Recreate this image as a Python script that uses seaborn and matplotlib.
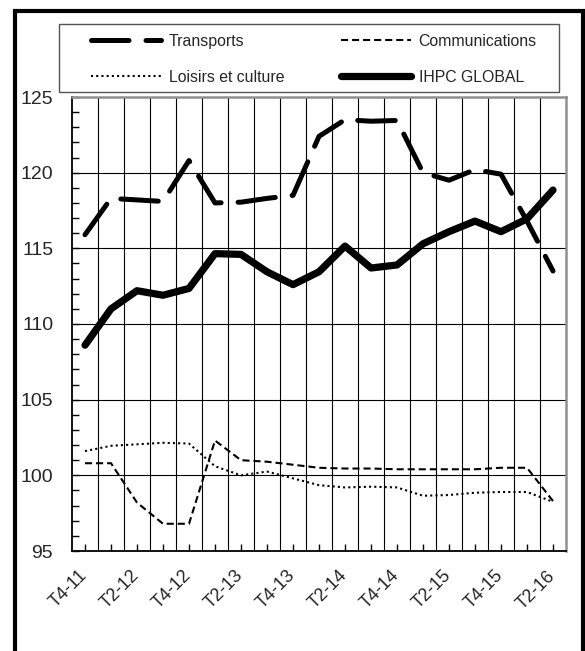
import pandas as pd
import seaborn as sns
from matplotlib import pyplot as plt
from matplotlib.lines import Line2D
from matplotlib.patches import Rectangle
from matplotlib.ticker import MultipleLocator, FixedLocator

quarters = ['T4-11', 'T1-12', 'T2-12', 'T3-12', 'T4-12', 'T1-13', 'T2-13', 'T3-13', 'T4-13', 'T1-14',
            'T2-14', 'T3-14', 'T4-14', 'T1-15', 'T2-15', 'T3-15', 'T4-15', 'T1-16', 'T2-16']
transports = [115.9, 118.3, 118.2, 118.1, 120.8, 118.0, 118.05, 118.3, 118.5, 122.4,
              123.5, 123.4, 123.45, 120.0, 119.5, 120.2, 119.9, 116.8, 113.5]
communications = [100.8, 100.8, 98.2, 96.8, 96.8, 102.3, 101.0, 100.9, 100.7, 100.5,
                  100.45, 100.45, 100.4, 100.4, 100.4, 100.4, 100.5, 100.5, 98.3]
loisirs = [101.6, 101.95, 102.05, 102.15, 102.1, 100.6, 100.0, 100.25, 99.8, 99.35,
           99.2, 99.25, 99.2, 98.65, 98.7, 98.85, 98.9, 98.9, 98.25]
ihpc = [108.6, 111.0, 112.2, 111.9, 112.35, 114.65, 114.6, 113.45, 112.6, 113.45,
        115.15, 113.7, 113.9, 115.3, 116.1, 116.8, 116.1, 116.95, 118.85]

data = pd.DataFrame({"pos": range(len(quarters)), "Transports": transports,
                     "Communications": communications, "Loisirs et culture": loisirs,
                     "IHPC GLOBAL": ihpc})

sns.set_style("white")
plt.rcParams['font.family'] = ['Liberation Sans', 'DejaVu Sans']

W, H = 585, 651
fig = plt.figure(figsize=(W / 100, H / 100), dpi=100)
ax = fig.add_axes([72 / W, 1 - 551 / H, 494 / W, 454 / H])

styles = {
    "Transports": dict(lw=3.6, linestyle=(0, (7.5, 3.4)), dash_capstyle='round', solid_capstyle='round'),
    "Communications": dict(lw=1.5, linestyle=(0, (3.4, 1.9))),
    "Loisirs et culture": dict(lw=1.5, linestyle=(0, (1, 1.5))),
    "IHPC GLOBAL": dict(lw=5.2, linestyle='-', solid_capstyle='round', solid_joinstyle='round'),
}
handles = {}
for name in ["Loisirs et culture", "Communications", "Transports", "IHPC GLOBAL"]:
    sns.lineplot(data=data, x="pos", y=name, ax=ax, color="black", **styles[name])
    handles[name] = Line2D([], [], color="black", **styles[name])

ax.set_xlim(-0.5, len(quarters) - 0.5)
ax.set_ylim(95, 125)
ax.set_xlabel("")
ax.set_ylabel("")

# y axis
ax.yaxis.set_major_locator(MultipleLocator(5))
ax.yaxis.set_minor_locator(MultipleLocator(1))
ax.tick_params(axis='y', which='both', direction='in', length=5, width=1, color='black',
               labelsize=14, pad=13.5, left=True)
ax.grid(axis='y', which='major', color='black', lw=0.8)

# x axis
ax.set_xticks(range(len(quarters)))
ax.set_xticklabels([q if i % 2 == 0 else "" for i, q in enumerate(quarters)],
                   rotation=45, ha='right', va='center', rotation_mode='anchor', fontsize=13)
ax.xaxis.set_minor_locator(FixedLocator([i + 0.5 for i in range(len(quarters) - 1)]))
ax.tick_params(axis='x', which='major', direction='in', length=5, width=1, color='black',
               pad=16, bottom=True)
ax.tick_params(axis='x', which='minor', length=0)
ax.grid(axis='x', which='minor', color='black', lw=0.8)
ax.set_axisbelow(True)

for s in ['left', 'bottom']:
    ax.spines[s].set_color('black')
    ax.spines[s].set_linewidth(1.3)
for s in ['top', 'right']:
    ax.spines[s].set_color('#909090')
    ax.spines[s].set_linewidth(1.8)

# legend box and entries
fig.add_artist(Rectangle((59 / W, 1 - 91.5 / H), 500 / W, 68 / H, transform=fig.transFigure,
                         fill=True, facecolor='white', edgecolor='#555555', lw=1.0))
order = ["Transports", "Loisirs et culture", "Communications", "IHPC GLOBAL"]
fig.legend([handles[n] for n in order], order, ncol=2, loc='upper left',
           bbox_to_anchor=(91 / W, 1 - 34 / H), frameon=False,
           fontsize=11.4, handlelength=4.4, handletextpad=0.5, columnspacing=3.6,
           borderpad=0, labelspacing=1.3, borderaxespad=0)

# outer frame
fig.add_artist(Rectangle((14.7 / W, -0.05), (582.5 - 14.7) / W, 1.05 - 10.6 / H,
                         transform=fig.transFigure, fill=False, edgecolor='black', lw=3.0))

fig.savefig("out.png", dpi=100, facecolor='white')
